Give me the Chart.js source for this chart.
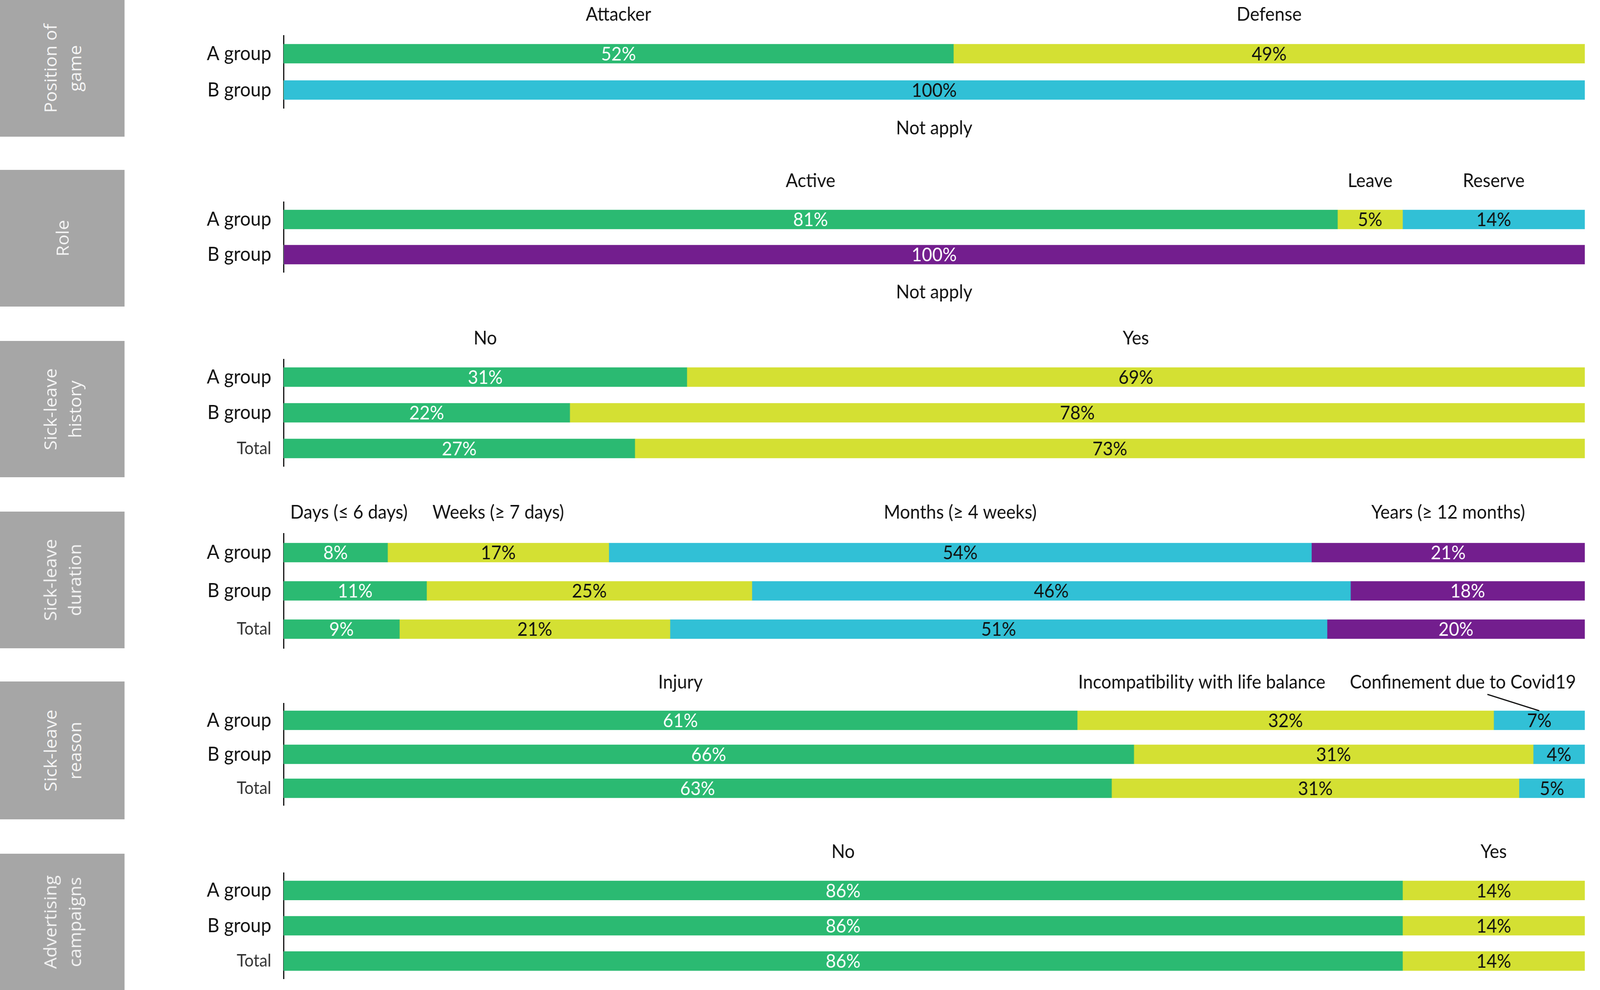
<!DOCTYPE html>
<html>
<head>
<meta charset="utf-8">
<script src="https://cdn.jsdelivr.net/npm/chart.js@4.4.1/dist/chart.umd.min.js"></script>
<style>
  html, body { margin: 0; padding: 0; overflow: hidden; background: #fff; }
  #page { position: absolute; left: 0; top: 0; width: 4317px; height: 2535px; overflow: hidden; transform-origin: 0 0; }
  .box { position: absolute; left: 0; width: 336px; background: #a6a6a6; display: flex; align-items: center; justify-content: center; }
  .box span { transform: rotate(-90deg); white-space: nowrap; text-align: center; color: #f4f4f4;
              font-family: 'Open Sans', sans-serif; font-size: 46px; line-height: 66px; }
  canvas { position: absolute; left: 0; }
</style>
</head>
<body>
<div id="page">
  <div class="box" style="top:0;height:350px"><span>Position of<br>game</span></div>
  <div class="box" style="top:435px;height:350px"><span>Role</span></div>
  <div class="box" style="top:873px;height:349px"><span>Sick-leave<br>history</span></div>
  <div class="box" style="top:1310px;height:350px"><span>Sick-leave<br>duration</span></div>
  <div class="box" style="top:1745px;height:353px"><span>Sick-leave<br>reason</span></div>
  <div class="box" style="top:2186px;height:349px"><span>Advertising<br>campaigns</span></div>

  <canvas id="c1"></canvas>
  <canvas id="c2"></canvas>
  <canvas id="c3"></canvas>
  <canvas id="c4"></canvas>
  <canvas id="c5"></canvas>
  <canvas id="c6"></canvas>
</div>

<script>
// rows
const rowsAB = ['A group', 'B group'];
const rowsABT = ['A group', 'B group', 'Total'];

// position of game
const positionCats = ['Attacker', 'Defense', 'Not apply'];
const positionVals = [[52, 0], [49, 0], [0, 100]];

// role
const roleCats = ['Active', 'Leave', 'Reserve', 'Not apply'];
const roleVals = [[81, 0], [5, 0], [14, 0], [0, 100]];

// sick-leave history
const historyCats = ['No', 'Yes'];
const historyVals = [[31, 22, 27], [69, 78, 73]];

// sick-leave duration
const durationCats = ['Days (\u2264 6 days)', 'Weeks (\u2265 7 days)', 'Months (\u2265 4 weeks)', 'Years (\u2265 12 months)'];
const durationVals = [[8, 11, 9], [17, 25, 21], [54, 46, 51], [21, 18, 20]];

// sick-leave reason
const reasonCats = ['Injury', 'Incompatibility with life balance', 'Confinement due to Covid19'];
const reasonVals = [[61, 66, 63], [32, 31, 31], [7, 4, 5]];

// advertising campaigns
const advertCats = ['No', 'Yes'];
const advertVals = [[86, 86, 86], [14, 14, 14]];

const COLORS = ['#2bba72', '#d4e033', '#31c0d6', '#731e8e'];
const INK = ['#ffffff', '#111111', '#111111', '#ffffff'];
const FONT = "Lato, 'Noto Sans', sans-serif";
const PAGE_W = 4317, PAGE_H = 2535;
const PAD = 110;

// the layout is made for 4317x2535; fit it to whatever window we get
document.getElementById('page').style.transform =
    `scale(${window.innerWidth / PAGE_W}, ${window.innerHeight / PAGE_H})`;

// numbers written on the bars
const segmentText = {
    id: 'segmentText',
    afterDatasetsDraw(chart) {
        const ctx = chart.ctx;
        ctx.save();
        ctx.font = `48px ${FONT}`;
        ctx.textAlign = 'center';
        ctx.textBaseline = 'middle';
        chart.data.datasets.forEach((ds, di) => {
            chart.getDatasetMeta(di).data.forEach((bar, i) => {
                if (!ds.raw[i]) return;
                ctx.fillStyle = INK[di];
                ctx.fillText(ds.raw[i] + '%', (bar.x + bar.base) / 2, bar.y + 2);
            });
        });
        ctx.restore();
    }
};

// category names above (or below) the bars
const categoryText = {
    id: 'categoryText',
    afterDraw(chart, args, opts) {
        const ctx = chart.ctx;
        const area = chart.chartArea;
        ctx.save();
        ctx.font = `48px ${FONT}`;
        ctx.textAlign = 'center';
        ctx.textBaseline = 'middle';
        ctx.fillStyle = '#111';
        chart.data.datasets.forEach((ds, di) => {
            const row = ds.raw.findIndex(v => v > 0);
            const bar = chart.getDatasetMeta(di).data[row];
            const cx = (bar.x + bar.base) / 2;
            const x = cx + ((opts.shift && opts.shift[di]) || 0);
            const y = row === 0 ? area.top - 53 : area.bottom + 52;
            ctx.fillText(ds.label, x, y);
            if (opts.leader === di) {
                ctx.strokeStyle = '#111';
                ctx.lineWidth = 3;
                ctx.beginPath();
                ctx.moveTo(x + 66, y + 30);
                ctx.lineTo(cx, bar.y - bar.height / 2);
                ctx.stroke();
            }
        });
        ctx.restore();
    }
};

function makePanel(n, areaTop, areaBottom, rows, cats, vals, extra) {
    const canvas = document.getElementById('c' + n);
    const h = areaBottom - areaTop + 2 * PAD;
    canvas.width = PAGE_W;
    canvas.height = h;
    canvas.style.width = PAGE_W + 'px';
    canvas.style.height = h + 'px';
    canvas.style.top = (areaTop - PAD) + 'px';

    // each row is drawn as a share of its own total so the bar fills the width
    const sums = rows.map((r, i) => vals.reduce((s, v) => s + v[i], 0));

    new Chart(canvas, {
        type: 'bar',
        data: {
            labels: rows,
            datasets: cats.map((c, di) => ({
                label: c,
                raw: vals[di],
                data: vals[di].map((v, i) => v / sums[i] * 100),
                backgroundColor: COLORS[di],
                borderWidth: 0,
                barThickness: 49
            }))
        },
        options: {
            indexAxis: 'y',
            responsive: false,
            animation: false,
            devicePixelRatio: 1,
            layout: { padding: { top: PAD, bottom: PAD, left: 0, right: 41 } },
            scales: {
                x: { stacked: true, min: 0, max: 100, display: false },
                y: {
                    stacked: true,
                    grid: { display: false, drawTicks: false },
                    border: { display: true, color: '#000', width: 3 },
                    ticks: {
                        padding: 33,
                        color: ctx => ctx.tick && ctx.tick.label === 'Total' ? '#333' : '#111',
                        font: ctx => ctx.tick && ctx.tick.label === 'Total'
                            ? { family: FONT, size: 44 }
                            : { family: FONT, size: 50 }
                    },
                    afterFit(scale) { scale.width = 765; }
                }
            },
            plugins: {
                legend: { display: false },
                tooltip: { enabled: false },
                categoryText: extra || {}
            }
        },
        plugins: [segmentText, categoryText]
    });
}

makePanel(1, 91, 277, rowsAB, positionCats, positionVals);
makePanel(2, 517, 697, rowsAB, roleCats, roleVals);
makePanel(3, 920, 1194, rowsABT, historyCats, historyVals);
makePanel(4, 1366, 1660, rowsABT, durationCats, durationVals, { shift: [36, 0, 0, 0] });
makePanel(5, 1801, 2062, rowsABT, reasonCats, reasonVals, { shift: [0, -226, -206], leader: 2 });
makePanel(6, 2235, 2506, rowsABT, advertCats, advertVals);
</script>
</body>
</html>
